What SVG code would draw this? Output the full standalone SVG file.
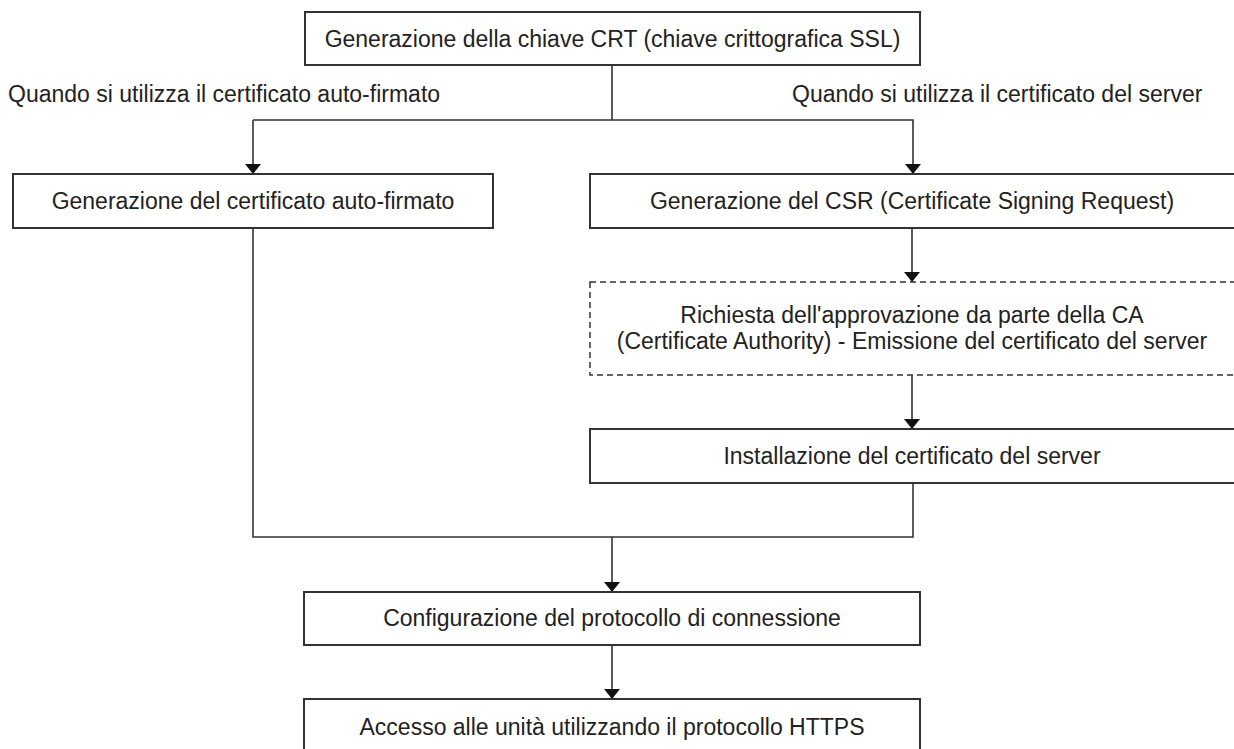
<svg xmlns="http://www.w3.org/2000/svg" width="1234" height="749" viewBox="0 0 1234 749">
<defs>
<marker id="ah" viewBox="0 0 10 16" refX="10" refY="8" markerWidth="10" markerHeight="16" markerUnits="userSpaceOnUse" orient="auto">
<path d="M0,0 L10,8 L0,16 Z" fill="#111"/>
</marker>
<style>
.box{fill:#fff;stroke:#333;stroke-width:2}
.dash{fill:#fff;stroke:#333;stroke-width:1.5;stroke-dasharray:6 4}
.t{font-family:"Liberation Sans",Arial,sans-serif;font-size:23px;fill:#222;text-anchor:middle}
.l{font-family:"Liberation Sans",Arial,sans-serif;font-size:23px;fill:#222}
.c{fill:none;stroke:#333;stroke-width:1.6}
.a{fill:none;stroke:#333;stroke-width:1.6;marker-end:url(#ah)}
</style>
</defs>
<rect width="1234" height="749" fill="#fff"/>
<g id="connectors">
<path class="c" d="M612,65 V120"/>
<path class="a" d="M253,120 H913 V174"/>
<path class="a" d="M253,120 V174"/>
<path class="a" d="M912,228 V282"/>
<path class="a" d="M912,375 V429"/>
<path class="c" d="M253,228 V537 H913 V483"/>
<path class="a" d="M612,537 V592"/>
<path class="a" d="M612,645 V699"/>
</g>
<g id="label-left"><text class="l" x="8" y="102">Quando si utilizza il certificato auto-firmato</text></g>
<g id="label-right"><text class="l" x="792" y="102">Quando si utilizza il certificato del server</text></g>
<g id="n-crt"><rect class="box" x="305" y="12" width="615" height="53"/><text class="t" x="612.5" y="47">Generazione della chiave CRT (chiave crittografica SSL)</text></g>
<g id="n-self"><rect class="box" x="13" y="174" width="480" height="54"/><text class="t" x="253" y="209">Generazione del certificato auto-firmato</text></g>
<g id="n-csr"><rect class="box" x="590" y="174" width="650" height="54"/><text class="t" x="912" y="209">Generazione del CSR (Certificate Signing Request)</text></g>
<g id="n-ca"><rect class="dash" x="590" y="282" width="650" height="93"/><text class="t" x="912" y="323">Richiesta dell'approvazione da parte della CA</text><text class="t" x="912" y="349">(Certificate Authority) - Emissione del certificato del server</text></g>
<g id="n-install"><rect class="box" x="590" y="429" width="650" height="54"/><text class="t" x="912" y="464">Installazione del certificato del server</text></g>
<g id="n-config"><rect class="box" x="304" y="592" width="616" height="53"/><text class="t" x="612" y="626">Configurazione del protocollo di connessione</text></g>
<g id="n-https"><rect class="box" x="304" y="699" width="616" height="60"/><text class="t" x="612" y="735">Accesso alle unità utilizzando il protocollo HTTPS</text></g>
</svg>
